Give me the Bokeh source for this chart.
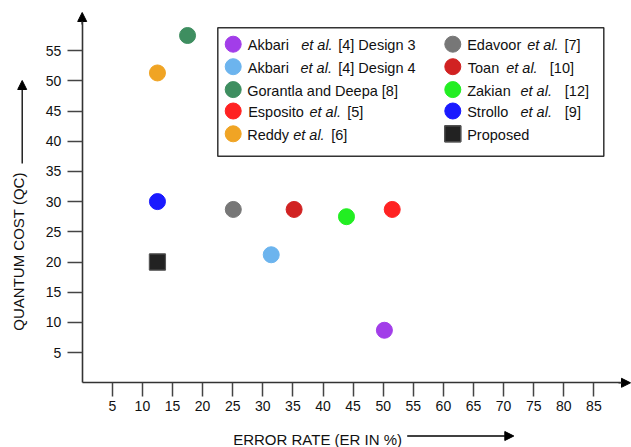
import numpy as np
from bokeh.plotting import figure
from bokeh.models import Range1d, FixedTicker, Arrow, NormalHead, Label, BoxAnnotation, ColumnDataSource
from bokeh.core.properties import value
from bokeh.embed import file_html
from bokeh.resources import INLINE

# ---------------- data ----------------
series = ["Akbari et al. [4] Design 3", "Akbari et al. [4] Design 4", "Gorantla and Deepa [8]",
          "Esposito et al. [5]", "Reddy et al. [6]", "Edavoor et al. [7]", "Toan et al. [10]",
          "Zakian et al. [12]", "Strollo et al. [9]", "Proposed"]
error_rate = [50.2, 31.4, 17.5, 51.5, 12.5, 25.1, 35.2, 43.9, 12.5, 12.5]
quantum_cost = [8.7, 21.2, 57.5, 28.7, 51.3, 28.7, 28.7, 27.5, 30.0, 20.0]
colors = ["#a23de9", "#6cb4ee", "#3e8e60", "#ff2222", "#f0a424", "#777777", "#d12222",
          "#22ee22", "#1a1aff", "#222222"]
markers = ["circle"] * 9 + ["square"]
x_ticks = [5, 10, 15, 20, 25, 30, 35, 40, 45, 50, 55, 60, 65, 70, 75, 80, 85]
y_ticks = [5, 10, 15, 20, 25, 30, 35, 40, 45, 50, 55]
x_title = "ERROR RATE (ER IN %)"
y_title = "QUANTUM COST (QC)"
# legend text split into (text, style) parts
legend_parts = [
    [("Akbari", "normal"), ("et al.", "italic"), ("[4] Design 3", "normal")],
    [("Akbari", "normal"), ("et al.", "italic"), ("[4] Design 4", "normal")],
    [("Gorantla and Deepa [8]", "normal")],
    [("Esposito", "normal"), ("et al.", "italic"), ("[5]", "normal")],
    [("Reddy", "normal"), ("et al.", "italic"), ("[6]", "normal")],
    [("Edavoor", "normal"), ("et al.", "italic"), ("[7]", "normal")],
    [("Toan", "normal"), ("et al.", "italic"), ("[10]", "normal")],
    [("Zakian", "normal"), ("et al.", "italic"), ("[12]", "normal")],
    [("Strollo", "normal"), ("et al.", "italic"), ("[9]", "normal")],
    [("Proposed", "normal")],
]

# ---------------- layout ----------------
W, H = 631, 447
PX_X, PX_Y = 6.02, 6.04
OX, OY = 81.7, 382.3   # pixel position of the (0, 0) origin


def dx(sx):
    return (sx - OX) / PX_X


def dy(sy):
    return (OY - sy) / PX_Y


FONT = "Liberation Sans"

p = figure(width=W, height=H, output_backend="svg", toolbar_location=None,
           x_range=Range1d(dx(0), dx(W)), y_range=Range1d(dy(H), dy(0)),
           min_border=0)
p.outline_line_color = None
p.grid.grid_line_color = None
p.background_fill_color = "white"

for ax in (p.xaxis[0], p.yaxis[0]):
    ax.fixed_location = 0
    ax.axis_line_color = "#333333"
    ax.axis_line_width = 1.6
    ax.major_tick_line_color = "#444444"
    ax.major_tick_line_width = 1.5
    ax.major_tick_in = 0
    ax.minor_tick_line_color = None
    ax.major_label_text_font = FONT
    ax.major_label_text_font_size = "14px"
    ax.major_label_text_color = "#111111"
p.xaxis[0].ticker = FixedTicker(ticks=x_ticks)
p.yaxis[0].ticker = FixedTicker(ticks=y_ticks)
p.xaxis[0].bounds = (0, dx(624))
p.yaxis[0].bounds = (0, dy(18))
p.xaxis[0].major_tick_out = 14
p.yaxis[0].major_tick_out = 15
p.xaxis[0].major_label_standoff = 4
p.yaxis[0].major_label_standoff = 6

# axis arrow heads
p.add_layout(Arrow(end=NormalHead(size=9, fill_color="black", line_color="black"),
                   x_start=dx(618), y_start=0, x_end=dx(630), y_end=0,
                   line_color="#333333", line_width=1.6))
p.add_layout(Arrow(end=NormalHead(size=9, fill_color="black", line_color="black"),
                   x_start=0, y_start=dy(24), x_end=0, y_end=dy(12),
                   line_color="#333333", line_width=1.6))

# data points
src = ColumnDataSource(dict(x=error_rate, y=quantum_cost, c=colors, m=markers, name=series))
p.scatter(x="x", y="y", source=src, marker="m", size=16, fill_color="c",
          line_color="c", line_width=1)
# darker outline for square
p.scatter(x=error_rate[-1:], y=quantum_cost[-1:], marker="square", size=16,
          fill_color=colors[-1], line_color="#555555", line_width=1.2)

# legend box
p.add_layout(BoxAnnotation(left=dx(217.3), right=dx(603.3), top=dy(27.3), bottom=dy(155.7),
                           fill_alpha=0, line_color="#333333", line_width=1.5, line_alpha=1))

row_y = [43.7, 66.2, 89.1, 110.5, 133.3]
col_marker_x = [232.7, 452.3]
seg_x = [
    [247.3, 300.7, 337.7],
    [247.3, 300.0, 337.7],
    [246.7],
    [247.7, 309.0, 346.7],
    [246.7, 292.7, 330.7],
    [466.7, 526.7, 564.0],
    [467.3, 505.7, 549.3],
    [466.7, 520.0, 564.3],
    [466.7, 520.0, 564.3],
    [466.7],
]
lx, ly, lc, lm = [], [], [], []
tx, ty, tt, ts = [], [], [], []
for i in range(len(series)):
    col, row = divmod(i, 5)
    lx.append(dx(col_marker_x[col]))
    ly.append(dy(row_y[row]))
    lc.append(colors[i])
    lm.append(markers[i])
    for (txt, style), sx in zip(legend_parts[i], seg_x[i]):
        tx.append(dx(sx))
        ty.append(dy(row_y[row] + 1))
        tt.append(txt)
        ts.append(style)
p.scatter(x=lx, y=ly, marker=lm, size=16, fill_color=lc, line_color=lc)
p.scatter(x=lx[-1:], y=ly[-1:], marker="square", size=16, fill_color=colors[-1],
          line_color="#555555", line_width=1.2)
p.text(x="x", y="y", text="t", text_font_style="s",
       source=ColumnDataSource(dict(x=tx, y=ty, t=tt, s=ts)),
       text_font=value(FONT), text_font_size="14.5px", text_baseline="middle",
       text_align="left", text_color="#111111")

# axis titles with arrows
p.add_layout(Label(x=dx(232.7), y=dy(438.5), text=x_title, text_font=FONT,
                   text_font_size="15px", text_baseline="middle", text_align="left",
                   text_color="#111111"))
p.add_layout(Arrow(end=NormalHead(size=9, fill_color="black", line_color="black"),
                   x_start=dx(406.7), y_start=dy(435.5), x_end=dx(513.3), y_end=dy(435.5),
                   line_color="black", line_width=1.3))
p.add_layout(Label(x=dx(17.5), y=dy(251), text=y_title, angle=np.pi / 2, text_font=FONT,
                   text_font_size="15px", text_baseline="middle", text_align="center",
                   text_color="#111111"))
p.add_layout(Arrow(end=NormalHead(size=9, fill_color="black", line_color="black"),
                   x_start=dx(21.7), y_start=dy(163), x_end=dx(21.7), y_end=dy(80),
                   line_color="black", line_width=1.3))

open("out.html", "w").write(file_html(p, INLINE))
